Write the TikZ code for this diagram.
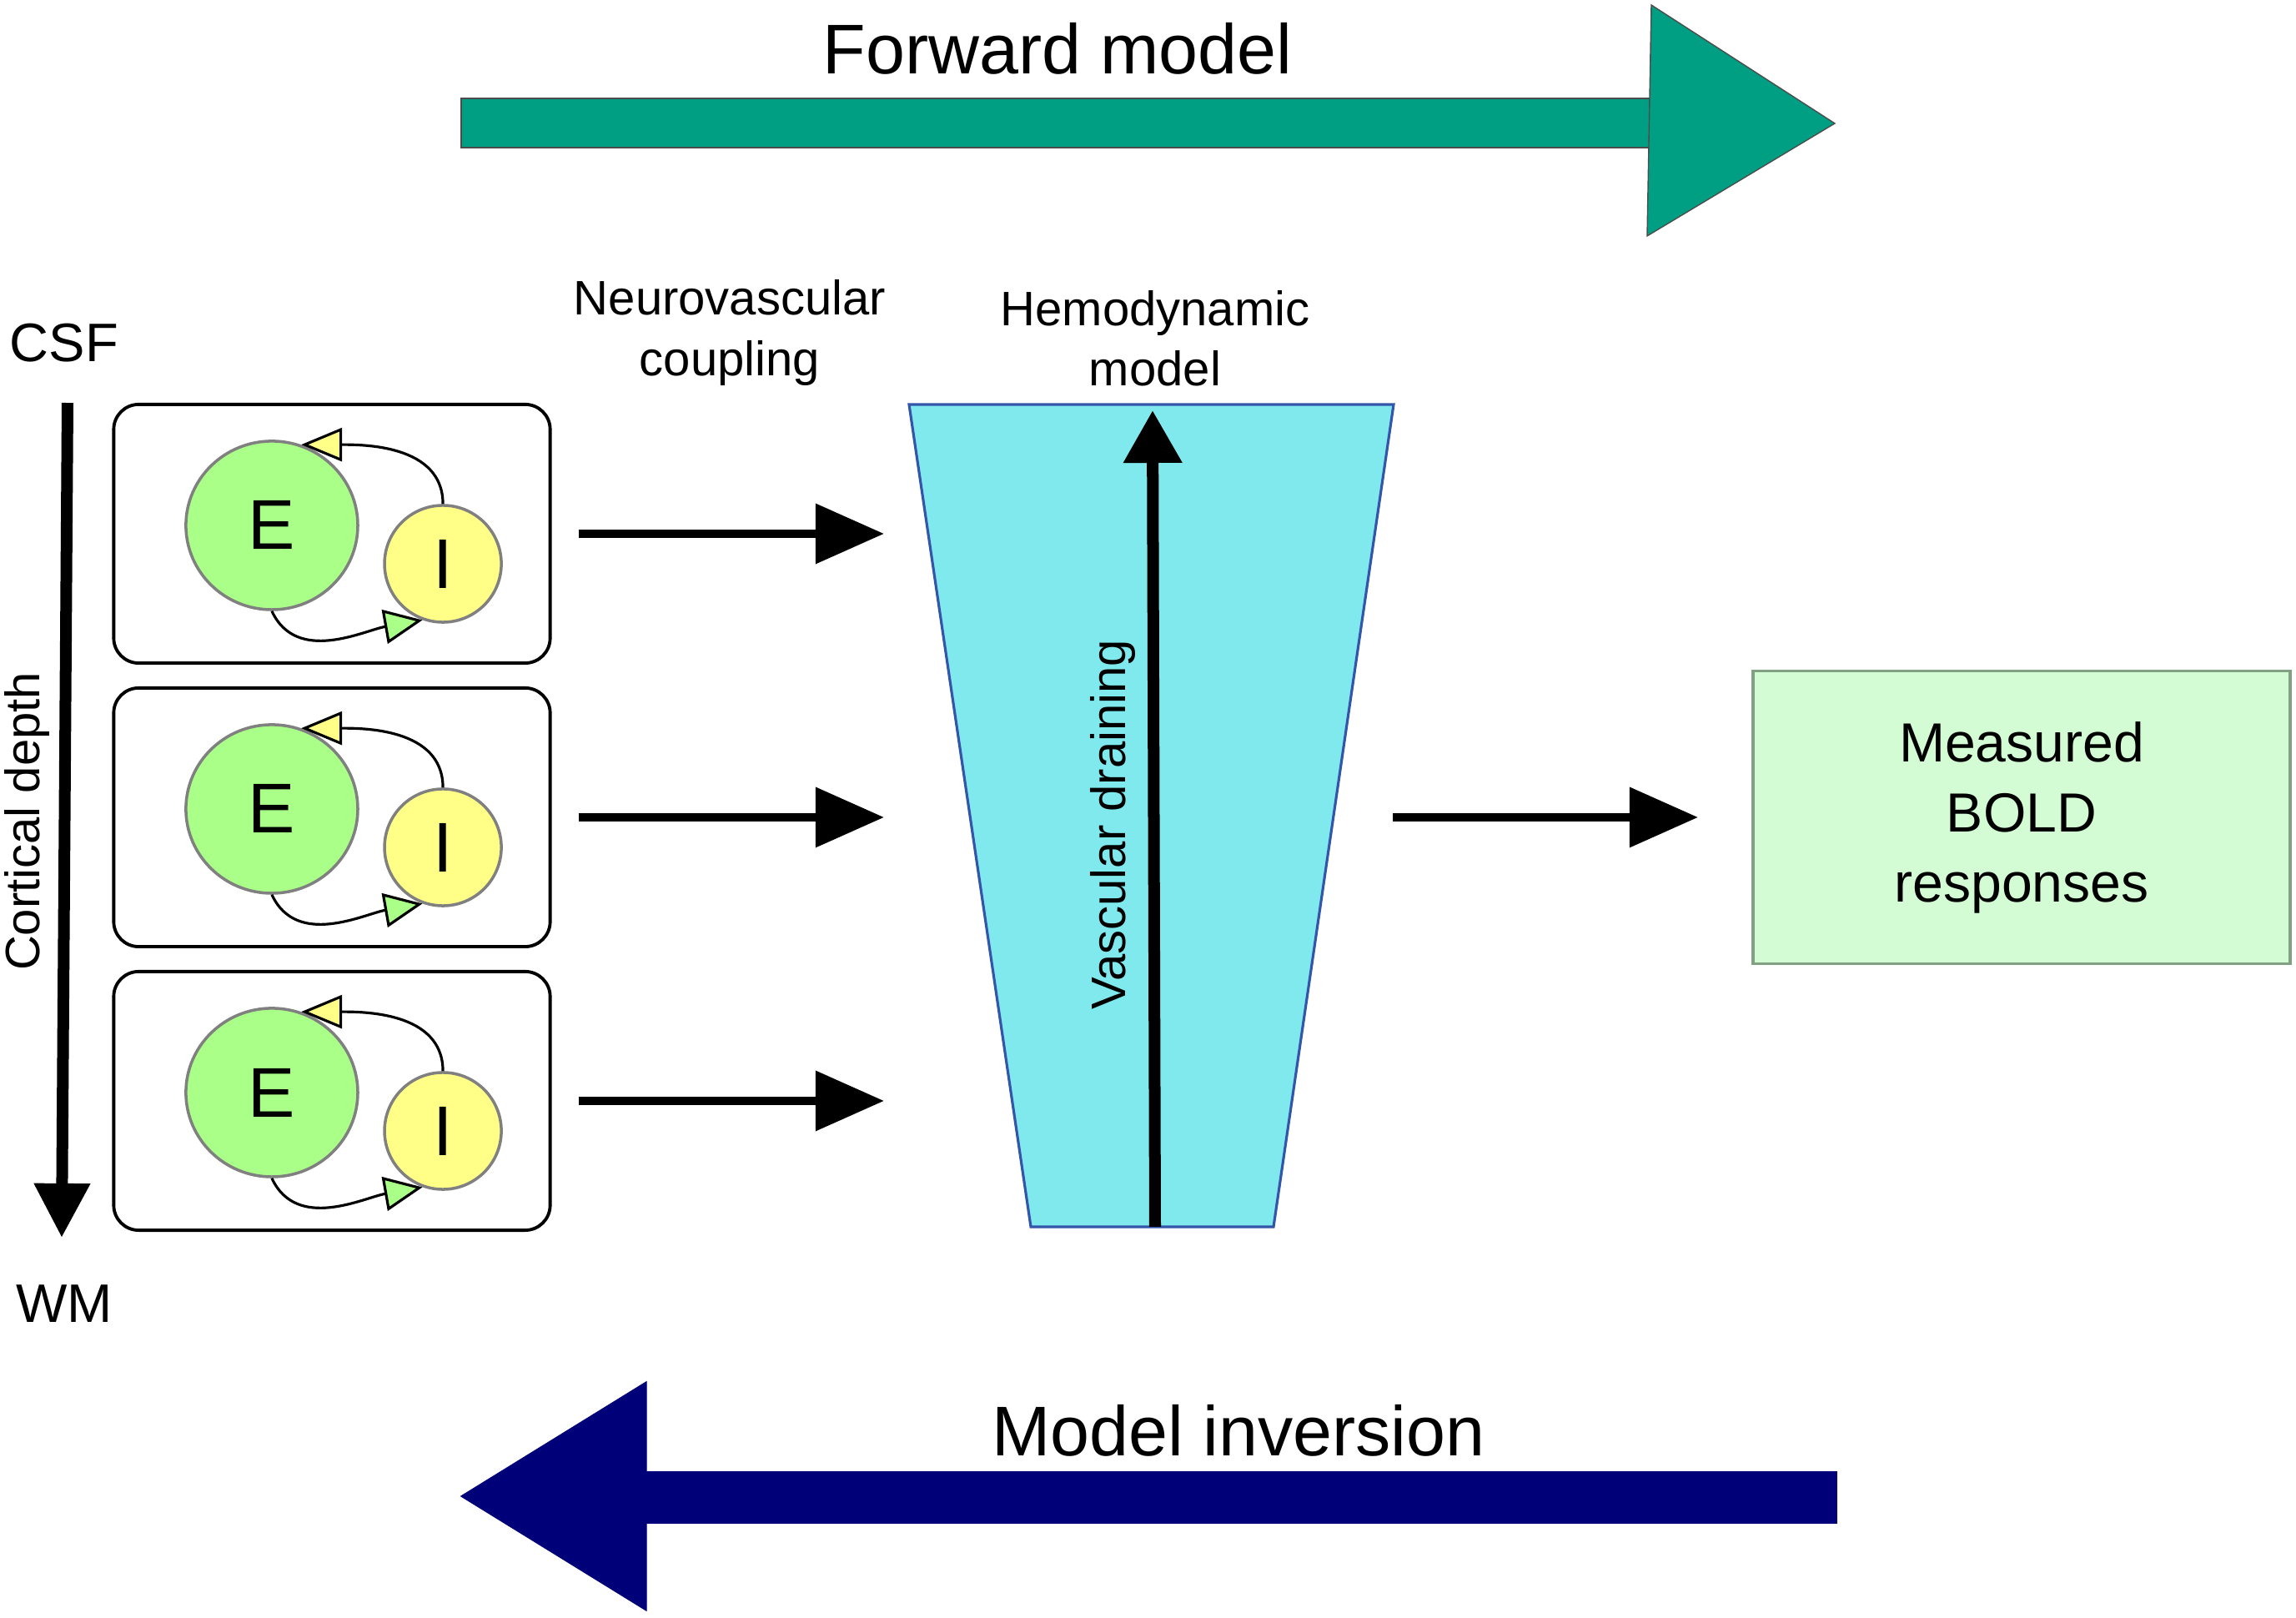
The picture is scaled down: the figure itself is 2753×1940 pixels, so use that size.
\documentclass[tikz,border=0pt]{standalone}
\usepackage{fontspec}
\setmainfont{Liberation Sans}
\usepackage{tikz}
\usetikzlibrary{positioning,arrows.meta,shapes.geometric}

\definecolor{fwdgreen}{RGB}{0,158,130}
\definecolor{invblue}{RGB}{0,0,120}
\definecolor{efill}{RGB}{170,255,136}
\definecolor{ifill}{RGB}{255,255,136}
\definecolor{hemofill}{RGB}{127,233,238}
\definecolor{hemoedge}{RGB}{51,85,170}
\definecolor{boldfill}{RGB}{212,252,212}
\definecolor{boldedge}{RGB}{130,160,130}

\begin{document}
\begin{tikzpicture}[
        x=0.01cm, y=0.01cm,
        cell/.style = {draw, line width=1.1pt, rounded corners=0.3cm, minimum width=5.23cm, minimum height=3.1cm},
        exc/.style  = {ellipse, draw=gray, line width=1pt, fill=efill, minimum width=2.06cm, minimum height=2.02cm, inner sep=0pt, font=\fontsize{24}{28}\selectfont},
        inh/.style  = {circle, draw=gray, line width=1pt, fill=ifill, minimum size=1.4cm, inner sep=0pt, font=\fontsize{24}{28}\selectfont},
        fb/.style   = {line width=0.9pt},
        flow/.style = {line width=0.1cm, -{Triangle[length=0.82cm, width=0.7cm]}},
        lbl/.style  = {align=center, font=\fontsize{16.5}{20.5}\selectfont},
        big/.style  = {font=\fontsize{24}{28}\selectfont},
        side/.style = {font=\fontsize{18.5}{22}\selectfont},
        bold/.style = {draw=boldedge, line width=1pt, fill=boldfill, minimum width=6.44cm, minimum height=3.51cm, align=center, font=\fontsize{18.8}{23.9}\selectfont}
    ]
    \useasboundingbox (0,0) rectangle (2753,1940);

    % forward model
    \filldraw[fill=fwdgreen, draw=black!70, line width=0.4pt] (553,1763) rectangle (1978,1822);
    \filldraw[fill=fwdgreen, draw=black!70, line width=0.4pt] (1980,1934) -- (2200,1792) -- (1975,1657) -- cycle;
    \node[big] (fwd) at (1268,1882) {Forward model};

    % model inversion
    \filldraw[fill=invblue, draw=invblue] (773,114) rectangle (2202,175);
    \filldraw[fill=invblue, draw=invblue] (775,283) -- (553,146) -- (775,9) -- cycle;
    \node[big] (inv) at (1485,225) {Model inversion};

    % cortical depth
    \node[side] (csf) at (77,1529) {CSF};
    \node[side] (wm)  at (77,377)  {WM};
    \draw[line width=0.14cm, -{Triangle[length=0.65cm, width=0.64cm]}]
        ([xshift=0.04cm, yshift=-0.72cm]csf.center) -- ([xshift=-0.03cm, yshift=0.79cm]wm.center);
    \node[lbl, rotate=90] (depth) at (32,955) {Cortical depth};

    % laminar E-I cells
    \foreach \i/\y in {1/1300, 2/960, 3/620} {
        \node[cell] (cell\i) at (398,\y) {};
        \node[exc, xshift=-0.72cm, yshift=0.1cm]  (E\i) at (cell\i) {E};
        \node[inh, xshift=1.33cm,  yshift=-0.36cm] (I\i) at (cell\i) {I};
        \draw[fb, -{Triangle[length=0.49cm, width=0.4cm, fill=ifill]}] (I\i.north) to[out=90, in=0] (E\i.70);
        \draw[fb, -{Triangle[length=0.46cm, width=0.41cm, fill=efill]}] (E\i.south) to[out=-65, in=190] (I\i.250);
        \coordinate (nv\i) at (1060,\y);
        \draw[flow, shorten <=0.32cm] (cell\i) -- (nv\i);
    }
    \node[lbl] (nvc) at (875,1541) {Neurovascular\\coupling};

    % hemodynamic model
    \filldraw[fill=hemofill, draw=hemoedge, line width=0.9pt] (1090,1455) -- (1671,1455) -- (1527,469) -- (1236,469) -- cycle;
    \node[lbl] (hdm) at (1385,1534) {Hemodynamic\\model};
    \coordinate (vb) at (1385,469);
    \coordinate (vt) at (1382,1448);
    \draw[line width=0.14cm, -{Triangle[length=0.63cm, width=0.67cm]}] (vb) -- (vt);
    \node[lbl, rotate=90] (drain) at (1334,951) {Vascular draining};

    % BOLD
    \node[bold] (bold) at (2424,960) {Measured\\BOLD\\responses};
    \coordinate (hemo) at (1670,960);
    \draw[flow, shorten >=0.64cm] (hemo) -- (bold);
\end{tikzpicture}
\end{document}
